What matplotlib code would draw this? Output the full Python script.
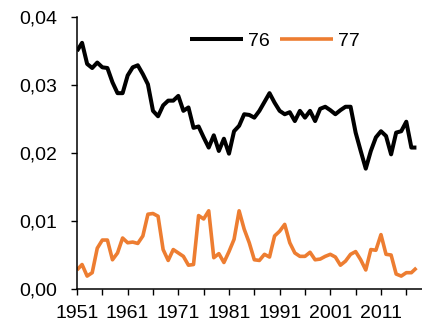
import matplotlib
matplotlib.use("Agg")
import matplotlib.pyplot as plt
from matplotlib.ticker import FixedLocator, FuncFormatter

plt.rcParams['font.family'] = ['Liberation Sans', 'DejaVu Sans']

years = list(range(1951, 2019))

series_76 = [
    0.0350, 0.0362, 0.0331, 0.0325, 0.0333, 0.0326, 0.0325, 0.0304, 0.0288, 0.0288,
    0.0314, 0.0326, 0.0329, 0.0316, 0.0301, 0.0262, 0.0254, 0.0270, 0.0277, 0.0277,
    0.0284, 0.0262, 0.0267, 0.0237, 0.0239, 0.0223, 0.0208, 0.0226, 0.0203, 0.0221,
    0.0199, 0.0232, 0.0240, 0.0257, 0.0256, 0.0252, 0.0262, 0.0275, 0.0288, 0.0274,
    0.0262, 0.0257, 0.0260, 0.0247, 0.0262, 0.0252, 0.0262, 0.0247, 0.0265, 0.0268,
    0.0263, 0.0257, 0.0263, 0.0268, 0.0268, 0.0230, 0.0203, 0.0177, 0.0203, 0.0223,
    0.0232, 0.0225, 0.0198, 0.0230, 0.0232, 0.0246, 0.0208, 0.0208,
]

series_77 = [
    0.0028, 0.0036, 0.0019, 0.0024, 0.0060, 0.0072, 0.0072, 0.0043, 0.0053, 0.0075,
    0.0068, 0.0069, 0.0067, 0.0078, 0.0110, 0.0111, 0.0107, 0.0058, 0.0042, 0.0058,
    0.0053, 0.0048, 0.0035, 0.0036, 0.0108, 0.0103, 0.0115, 0.0046, 0.0052, 0.0039,
    0.0055, 0.0073, 0.0115, 0.0088, 0.0068, 0.0043, 0.0042, 0.0051, 0.0047, 0.0078,
    0.0085, 0.0095, 0.0068, 0.0053, 0.0048, 0.0048, 0.0054, 0.0043, 0.0044, 0.0048,
    0.0051, 0.0047, 0.0035, 0.0041, 0.0051, 0.0055, 0.0043, 0.0028, 0.0058, 0.0057,
    0.0080, 0.0051, 0.0050, 0.0022, 0.0019, 0.0024, 0.0024, 0.0031,
]

series_names = ["76", "77"]
colors = ["#000000", "#ED7D31"]

labeled_years = [1951, 1961, 1971, 1981, 1991, 2001, 2011]
between_years = [1956, 1966, 1976, 1986, 1996, 2006, 2016]
y_ticks = [0.0, 0.01, 0.02, 0.03, 0.04]

W, H = 422, 327
fig = plt.figure(figsize=(W / 100, H / 100), dpi=100)
ax = fig.add_axes([77 / W, (H - 289) / H, (W - 77) / W, (289 - 17) / H])

ax.plot(years, series_76, color=colors[0], lw=2.9, label=series_names[0],
        solid_joinstyle='round', solid_capstyle='butt')
ax.plot(years, series_77, color=colors[1], lw=2.6, label=series_names[1],
        solid_joinstyle='round', solid_capstyle='butt')

ax.set_xlim(1951, 2019.1)
ax.set_ylim(0, 0.04)

ax.xaxis.set_major_locator(FixedLocator(labeled_years))
ax.xaxis.set_minor_locator(FixedLocator(between_years))
ax.set_xticklabels([str(y) for y in labeled_years])
ax.yaxis.set_major_locator(FixedLocator(y_ticks))
ax.yaxis.set_major_formatter(FuncFormatter(lambda v, p: f"{v:.2f}".replace('.', ',')))

for side in ("top", "right"):
    ax.spines[side].set_visible(False)
for side in ("left", "bottom"):
    ax.spines[side].set_linewidth(1.1)

ax.tick_params(axis='both', which='both', direction='out', length=4.3, width=1.0,
               labelsize=14, colors='#000000')
ax.tick_params(axis='y', pad=10)
ax.tick_params(axis='x', which='major', pad=7.5)

leg = fig.legend(loc='center left', bbox_to_anchor=(190 / W, 1 - 41 / H),
                 ncol=2, frameon=False, fontsize=14, handlelength=2.75,
                 handletextpad=0.25, columnspacing=0.5, borderpad=0,
                 borderaxespad=0)

fig.savefig("out.png", dpi=100)
